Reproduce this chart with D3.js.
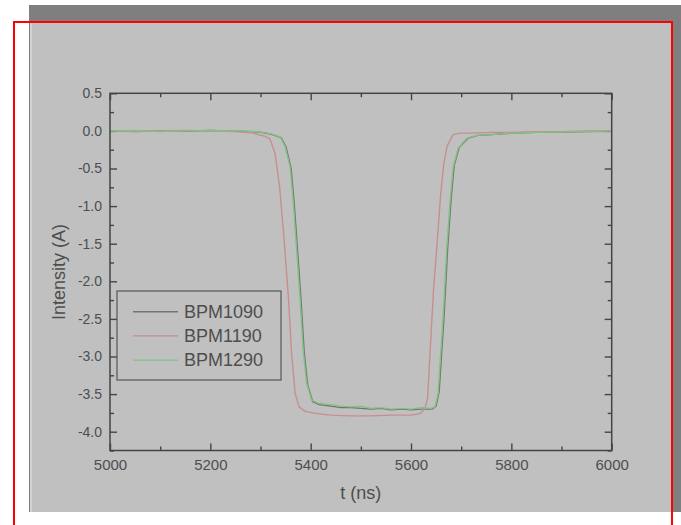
<!DOCTYPE html>
<html>
<head>
<meta charset="utf-8">
<script src="https://cdn.jsdelivr.net/npm/d3@7"></script>
<style>
  html, body { margin: 0; padding: 0; background: #fff; }
  svg { display: block; }
  text { font-family: Arial, "Liberation Sans", sans-serif; fill: #4e4e4e; }
</style>
</head>
<body>
<svg width="681" height="525"></svg>
<script>
// beam intensity at three BPMs

var names = ["BPM1090", "BPM1190", "BPM1290"];
var colors = ["#747474", "#c68e8e", "#82c282"];

var t1090 = [5000, 5050, 5100, 5150, 5200, 5250, 5282, 5302, 5314, 5327, 5341, 5351, 5361, 5367, 5374, 5381, 5387, 5394, 5404, 5417, 5440, 5460, 5480, 5500, 5520, 5540, 5560, 5580, 5600, 5620, 5642, 5650, 5656, 5666, 5673, 5680, 5686, 5696, 5713, 5733, 5760, 5800, 5850, 5900, 5950, 6000];
var v1090 = [0, -0.01, 0, -0.005, 0.005, -0.005, -0.01, -0.02, -0.035, -0.055, -0.09, -0.22, -0.5, -0.95, -1.6, -2.27, -2.93, -3.38, -3.6, -3.64, -3.66, -3.68, -3.68, -3.69, -3.7, -3.69, -3.71, -3.7, -3.71, -3.7, -3.7, -3.66, -3.47, -2.45, -1.56, -0.9, -0.46, -0.22, -0.1, -0.06, -0.05, -0.03, -0.02, -0.02, -0.01, -0.005];

var t1190 = [5000, 5050, 5100, 5150, 5200, 5250, 5285, 5308, 5319, 5329, 5338, 5346, 5356, 5362, 5369, 5377, 5389, 5412, 5440, 5478, 5520, 5560, 5600, 5618, 5628, 5633, 5640, 5645, 5653, 5659, 5665, 5672, 5684, 5698, 5717, 5760, 5800, 5850, 5900, 5950, 6000];
var v1190 = [0, -0.005, 0, 0.005, 0, -0.01, -0.03, -0.07, -0.11, -0.3, -0.74, -1.36, -2.25, -2.96, -3.49, -3.67, -3.73, -3.76, -3.78, -3.79, -3.79, -3.78, -3.78, -3.76, -3.69, -3.55, -2.7, -2.1, -1.4, -0.85, -0.45, -0.2, -0.05, -0.03, -0.03, -0.02, -0.02, -0.01, -0.01, 0, 0];

var t1290 = [5000, 5050, 5100, 5150, 5200, 5250, 5280, 5300, 5312, 5325, 5339, 5349, 5359, 5365, 5372, 5379, 5385, 5392, 5402, 5415, 5440, 5460, 5480, 5500, 5520, 5540, 5560, 5580, 5600, 5620, 5640, 5648, 5654, 5664, 5671, 5678, 5684, 5694, 5711, 5731, 5760, 5800, 5850, 5900, 5950, 6000];
var v1290 = [0, 0.005, -0.01, 0, 0.005, 0, -0.005, -0.015, -0.03, -0.05, -0.08, -0.21, -0.48, -0.92, -1.58, -2.25, -2.91, -3.36, -3.58, -3.62, -3.64, -3.66, -3.67, -3.66, -3.69, -3.68, -3.7, -3.69, -3.7, -3.68, -3.69, -3.67, -3.49, -2.47, -1.58, -0.92, -0.48, -0.23, -0.1, -0.06, -0.05, -0.03, -0.02, -0.015, -0.01, 0];

var xTicks = [5000, 5200, 5400, 5600, 5800, 6000];
var xMinor = [5100, 5300, 5500, 5700, 5900];
var yTicks = [0.5, 0, -0.5, -1, -1.5, -2, -2.5, -3, -3.5, -4];
var yMinor = [0.25, -0.25, -0.75, -1.25, -1.75, -2.25, -2.75, -3.25, -3.75, -4.25];

var series = [
  { name: names[0], color: colors[0], t: t1090, v: v1090 },
  { name: names[1], color: colors[1], t: t1190, v: v1190 },
  { name: names[2], color: colors[2], t: t1290, v: v1290 }
];

var svg = d3.select("svg");

// window background
svg.append("rect").attr("x", 29).attr("y", 5).attr("width", 652).attr("height", 507).attr("fill", "#7f7f7f");
svg.append("rect").attr("x", 30).attr("y", 22).attr("width", 642).attr("height", 490).attr("fill", "#c0c0c0");
svg.append("rect").attr("x", 30).attr("y", 22).attr("width", 2).attr("height", 490).attr("fill", "#d2d2d2");

var pLeft = 110, pRight = 611.7, pTop = 93.3, pBottom = 450.5;

var x = d3.scaleLinear().domain([5000, 6000]).range([pLeft, pRight]);
var y = d3.scaleLinear().domain([-4.25, 0.5]).range([pBottom, pTop]);

var axisColor = "#444";

function styleAxis(g, size) {
  g.select(".domain").remove();
  g.selectAll(".tick line").attr("stroke", axisColor).attr("stroke-width", 1.4);
  g.selectAll(".tick text").attr("fill", "#4e4e4e").style("font-size", (size || 14) + "px")
    .style("font-family", "Arial, 'Liberation Sans', sans-serif");
}

// bottom
svg.append("g").attr("transform", "translate(0," + pBottom + ")")
  .call(d3.axisBottom(x).tickValues(xTicks).tickSize(-7).tickPadding(9).tickFormat(d3.format("d")))
  .call(styleAxis, 15);
svg.append("g").attr("transform", "translate(0," + pBottom + ")")
  .call(d3.axisBottom(x).tickValues(xMinor).tickSize(-4).tickFormat(""))
  .call(styleAxis);
// top
svg.append("g").attr("transform", "translate(0," + pTop + ")")
  .call(d3.axisTop(x).tickValues(xTicks).tickSize(-7).tickFormat(""))
  .call(styleAxis);
svg.append("g").attr("transform", "translate(0," + pTop + ")")
  .call(d3.axisTop(x).tickValues(xMinor).tickSize(-4).tickFormat(""))
  .call(styleAxis);
// left
svg.append("g").attr("transform", "translate(" + pLeft + ",0)")
  .call(d3.axisLeft(y).tickValues(yTicks).tickSize(-7).tickPadding(8).tickFormat(function(d) { return d.toFixed(1); }))
  .call(styleAxis, 14);
svg.append("g").attr("transform", "translate(" + pLeft + ",0)")
  .call(d3.axisLeft(y).tickValues(yMinor).tickSize(-4).tickFormat(""))
  .call(styleAxis);
// right
svg.append("g").attr("transform", "translate(" + pRight + ",0)")
  .call(d3.axisRight(y).tickValues(yTicks).tickSize(-7).tickFormat(""))
  .call(styleAxis);
svg.append("g").attr("transform", "translate(" + pRight + ",0)")
  .call(d3.axisRight(y).tickValues(yMinor).tickSize(-4).tickFormat(""))
  .call(styleAxis);

var line = d3.line()
  .x(function(d) { return x(d[0]); })
  .y(function(d) { return y(d[1]); });

svg.append("g").selectAll("path")
  .data(series)
  .enter().append("path")
    .attr("fill", "none")
    .attr("stroke", function(d) { return d.color; })
    .attr("stroke-width", 1.4)
    .attr("stroke-linejoin", "round")
    .attr("d", function(d) { return line(d3.zip(d.t, d.v)); });

// frame
svg.append("rect")
  .attr("x", pLeft).attr("y", pTop)
  .attr("width", pRight - pLeft).attr("height", pBottom - pTop)
  .attr("fill", "none").attr("stroke", axisColor).attr("stroke-width", 1.5);

// axis titles
svg.append("text")
  .attr("x", (pLeft + pRight) / 2).attr("y", 499)
  .attr("text-anchor", "middle")
  .style("font-size", "18px")
  .text("t (ns)");

svg.append("text")
  .attr("transform", "translate(65," + (pTop + pBottom) / 2 + ") rotate(-90)")
  .attr("text-anchor", "middle")
  .style("font-size", "18px")
  .text("Intensity (A)");

// legend
var legend = svg.append("g");
legend.append("rect")
  .attr("x", 117).attr("y", 291).attr("width", 164).attr("height", 89)
  .attr("fill", "none").attr("stroke", "#555").attr("stroke-width", 1.2);

var item = legend.selectAll(".item")
  .data(series)
  .enter().append("g")
    .attr("class", "item")
    .attr("transform", function(d, i) { return "translate(0," + (311.7 + i * 24.2) + ")"; });

item.append("line")
  .attr("x1", 133).attr("x2", 178)
  .attr("stroke", function(d) { return d.color; })
  .attr("stroke-width", 1.4);

item.append("text")
  .attr("x", 184).attr("dy", "0.35em")
  .style("font-size", "18px")
  .text(function(d) { return d.name; });

// red outline
svg.append("rect")
  .attr("x", 14).attr("y", 22).attr("width", 658).attr("height", 520)
  .attr("fill", "none").attr("stroke", "#ff0000").attr("stroke-width", 2);
</script>
</body>
</html>
